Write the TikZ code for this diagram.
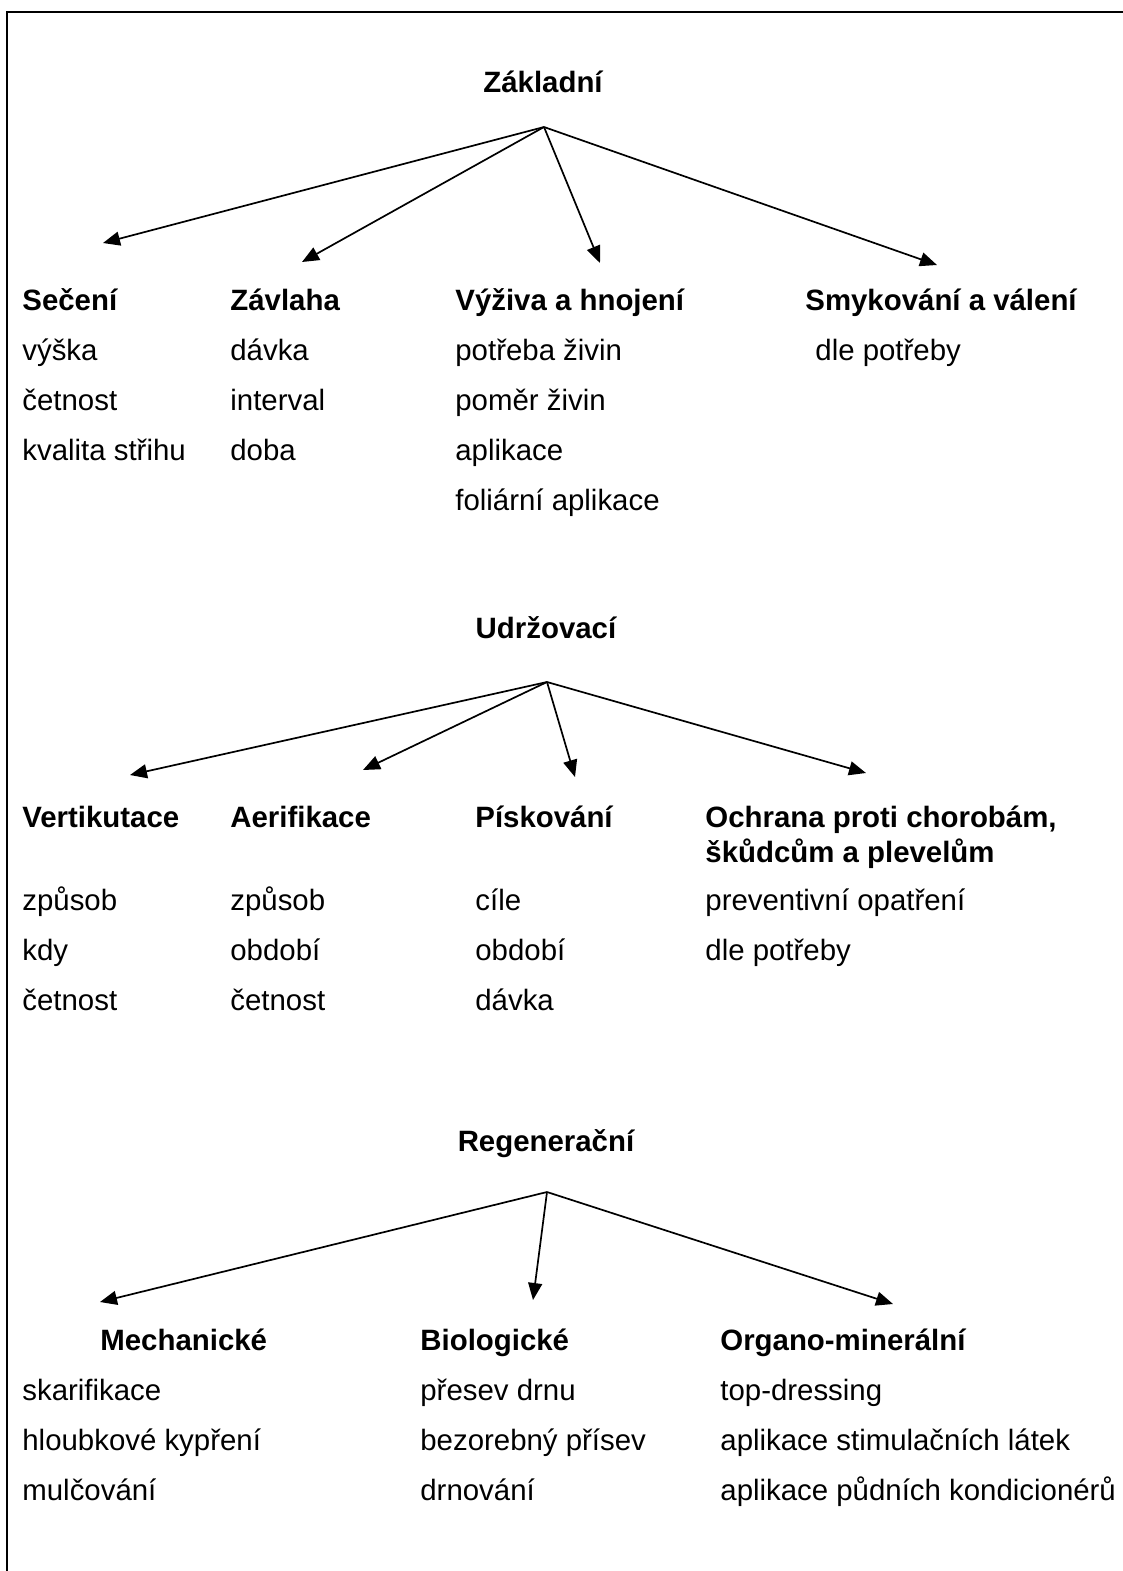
\documentclass[tikz,border=0pt]{standalone}
\usepackage{fontspec}
\setmainfont{Liberation Sans}
\usetikzlibrary{arrows.meta}
\begin{document}
\begin{tikzpicture}[x=0.5pt,y=-0.5pt]
        \tikzstyle{every node}=[inner sep=0pt, anchor=base west, font=\fontsize{14.7}{17.5}\selectfont, text=black]
        \tikzstyle{head}=[font=\fontsize{14.7}{17.5}\selectfont\bfseries]
        \tikzstyle{title}=[head, anchor=base]
        \tikzstyle{edge}=[black, line width=0.85pt, -{Triangle[length=8.5pt,width=7pt]}]

        \useasboundingbox (0,0) rectangle (1123,1571);
        \draw[line width=1pt] (1123,12) -- (7,12) -- (7,1571);

        % Zakladni
        \node[title] (zakl) at (543,92) {Základní};
        \coordinate (zakl-src) at (544,127);
        \coordinate (seceni-tip) at (103,243);
        \coordinate (zavlaha-tip) at (302,262);
        \coordinate (vyziva-tip) at (600,263);
        \coordinate (smyk-tip) at (937,265);

        \node[head] (seceni)  at (22,310)  {Sečení};
        \node[head] (zavlaha) at (230,310) {Závlaha};
        \node[head] (vyziva)  at (455,310) {Výživa a hnojení};
        \node[head] (smyk)    at (805,310) {Smykování a válení};

        \node (seceni1) at (22,360) {výška};
        \node (seceni2) at (22,410) {četnost};
        \node (seceni3) at (22,460) {kvalita střihu};
        \node (zavlaha1) at (230,360) {dávka};
        \node (zavlaha2) at (230,410) {interval};
        \node (zavlaha3) at (230,460) {doba};
        \node (vyziva1) at (455,360) {potřeba živin};
        \node (vyziva2) at (455,410) {poměr živin};
        \node (vyziva3) at (455,460) {aplikace};
        \node (vyziva4) at (455,510) {foliární aplikace};
        \node (smyk1) at (815,360) {dle potřeby};

        \draw[edge] (zakl-src) -- (seceni-tip);
        \draw[edge] (zakl-src) -- (zavlaha-tip);
        \draw[edge] (zakl-src) -- (vyziva-tip);
        \draw[edge] (zakl-src) -- (smyk-tip);

        % Udrzovaci
        \node[title] (udrz) at (546,638) {Udržovací};
        \coordinate (udrz-src) at (547,682);
        \coordinate (vert-tip) at (130,775);
        \coordinate (aeri-tip) at (363,770);
        \coordinate (pisk-tip) at (575,777);
        \coordinate (ochr-tip) at (866,773);

        \node[head] (vert) at (22,827)  {Vertikutace};
        \node[head] (aeri) at (230,827) {Aerifikace};
        \node[head] (pisk) at (475,827) {Pískování};
        \node[head] (ochr) at (705,827) {\begin{tabular}[t]{@{}l@{}} Ochrana proti chorobám, \\ škůdcům a plevelům \end{tabular}};

        \node (vert1) at (22,910)  {způsob};
        \node (vert2) at (22,960)  {kdy};
        \node (vert3) at (22,1010) {četnost};
        \node (aeri1) at (230,910)  {způsob};
        \node (aeri2) at (230,960)  {období};
        \node (aeri3) at (230,1010) {četnost};
        \node (pisk1) at (475,910)  {cíle};
        \node (pisk2) at (475,960)  {období};
        \node (pisk3) at (475,1010) {dávka};
        \node (ochr1) at (705,910) {preventivní opatření};
        \node (ochr2) at (705,960) {dle potřeby};

        \draw[edge] (udrz-src) -- (vert-tip);
        \draw[edge] (udrz-src) -- (aeri-tip);
        \draw[edge] (udrz-src) -- (pisk-tip);
        \draw[edge] (udrz-src) -- (ochr-tip);

        % Regeneracni
        \node[title] (regen) at (546,1151) {Regenerační};
        \coordinate (regen-src) at (547,1192);
        \coordinate (mech-tip) at (100,1302);
        \coordinate (bio-tip) at (533,1300);
        \coordinate (org-tip) at (893,1304);

        \node[head] (mech) at (100,1350) {Mechanické};
        \node[head] (bio)  at (420,1350) {Biologické};
        \node[head] (org)  at (720,1350) {Organo-minerální};

        \node (mech1) at (22,1400) {skarifikace};
        \node (mech2) at (22,1450) {hloubkové kypření};
        \node (mech3) at (22,1500) {mulčování};
        \node (bio1) at (420,1400) {přesev drnu};
        \node (bio2) at (420,1450) {bezorebný přísev};
        \node (bio3) at (420,1500) {drnování};
        \node (org1) at (720,1400) {top-dressing};
        \node (org2) at (720,1450) {aplikace stimulačních látek};
        \node (org3) at (720,1500) {aplikace půdních kondicionérů};

        \draw[edge] (regen-src) -- (mech-tip);
        \draw[edge] (regen-src) -- (bio-tip);
        \draw[edge] (regen-src) -- (org-tip);
\end{tikzpicture}
\end{document}
